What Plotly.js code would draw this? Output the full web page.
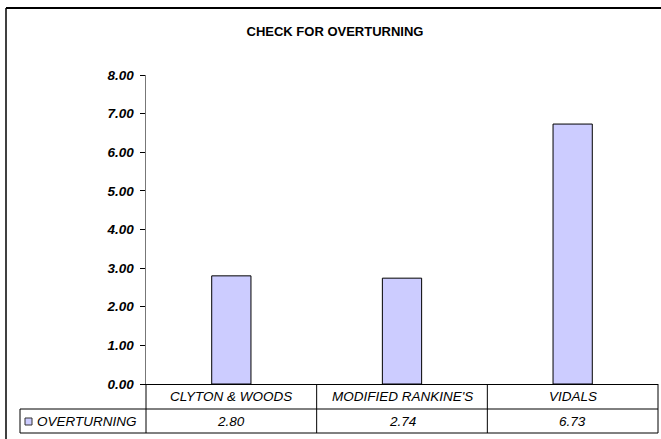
<!DOCTYPE html>
<html>
<head>
<meta charset="utf-8">
<script src="https://cdn.plot.ly/plotly-3.0.1.min.js"></script>
<style>html,body{margin:0;padding:0;background:#fff;}#chart{width:661px;height:439px;}</style>
</head>
<body>
<div id="chart"></div>
<script>
const categories = ["CLYTON & WOODS", "MODIFIED RANKINE'S", "VIDALS"];
const seriesName = "OVERTURNING";
const overturning = [2.80, 2.74, 6.73];
const yTickVals = [0, 1, 2, 3, 4, 5, 6, 7, 8];

const W = 661, H = 439;
const mL = 146, mR = 3, mT = 75, mB = 55;
const plotW = W - mL - mR, plotH = H - mT - mB;
const px2x = p => (p - mL) / plotW;
const px2y = p => (H - mB - p) / plotH;

const FONT = "Arial, 'Liberation Sans', sans-serif";
const row1 = px2y(409), row2 = px2y(433);
const legLeft = px2x(20);
const n = categories.length;

const shapes = [];
const line = {color: '#000', width: 1};
// outer chart frame
shapes.push({type:'line', xref:'paper', yref:'paper', x0:px2x(6), x1:px2x(700), y0:px2y(8), y1:px2y(8), line:{color:'#000', width:2}});
shapes.push({type:'line', xref:'paper', yref:'paper', x0:px2x(6), x1:px2x(6), y0:px2y(8), y1:px2y(460), line:{color:'#000', width:1.5}});
// table verticals
for (let i = 0; i <= n; i++) {
  shapes.push({type:'line', xref:'paper', yref:'paper', x0:i/n, x1:i/n, y0:0, y1:row2, line});
}
shapes.push({type:'line', xref:'paper', yref:'paper', x0:legLeft, x1:legLeft, y0:row1, y1:row2, line});
shapes.push({type:'line', xref:'paper', yref:'paper', x0:legLeft, x1:1, y0:row1, y1:row1, line});
shapes.push({type:'line', xref:'paper', yref:'paper', x0:legLeft, x1:1, y0:row2, y1:row2, line});
// legend swatch
shapes.push({type:'rect', xref:'paper', yref:'paper', x0:px2x(25), x1:px2x(32), y0:px2y(425), y1:px2y(418), fillcolor:'#CCCCFF', line:{color:'#333', width:1}});

const annotations = [];
const cellFont = {family: FONT, size: 13.5, color: '#000', style: 'italic'};
categories.forEach((c, i) => {
  annotations.push({xref:'paper', yref:'paper', x:(i+0.5)/n, y:(0+row1)/2, text:c, showarrow:false, xanchor:'center', yanchor:'middle', font:cellFont});
  annotations.push({xref:'paper', yref:'paper', x:(i+0.5)/n, y:(row1+row2)/2, text:overturning[i].toFixed(2), showarrow:false, xanchor:'center', yanchor:'middle', font:cellFont});
});
annotations.push({xref:'paper', yref:'paper', x:px2x(35), y:(row1+row2)/2, text:seriesName, showarrow:false, xanchor:'left', yanchor:'middle', font:cellFont});

const trace = {
  type: 'bar',
  x: categories,
  y: overturning,
  name: seriesName,
  marker: {color: '#CCCCFF', line: {color: '#000', width: 1}},
  hoverinfo: 'none'
};

const layout = {
  width: W, height: H,
  margin: {l: mL, r: mR, t: mT, b: mB, pad: 0},
  paper_bgcolor: '#fff', plot_bgcolor: '#fff',
  showlegend: false,
  bargap: 0.77,
  title: {text: 'CHECK FOR OVERTURNING', font: {family: FONT, size: 13, color: '#000', weight: 'bold'}, xref: 'container', yref: 'container', x: 335/W, y: 1 - 31.5/H, xanchor: 'center', yanchor: 'middle'},
  xaxis: {type: 'category', showticklabels: false, ticks: '', showline: true, linecolor: '#000', linewidth: 1, showgrid: false, zeroline: false, fixedrange: true, range: [-0.5, n - 0.5]},
  yaxis: {range: [0, 8], tickvals: yTickVals, tickformat: '.2f', ticks: 'outside', ticklen: 5, tickcolor: '#000', tickwidth: 1, showline: true, linecolor: '#777', linewidth: 1.5, showgrid: false, zeroline: false, ticklabelstandoff: 3,
    tickfont: {family: FONT, size: 13.5, color: '#000', weight: 'bold', style: 'italic'}},
  shapes, annotations
};

Plotly.newPlot('chart', [trace], layout, {displayModeBar: false, staticPlot: true});
</script>
</body>
</html>
